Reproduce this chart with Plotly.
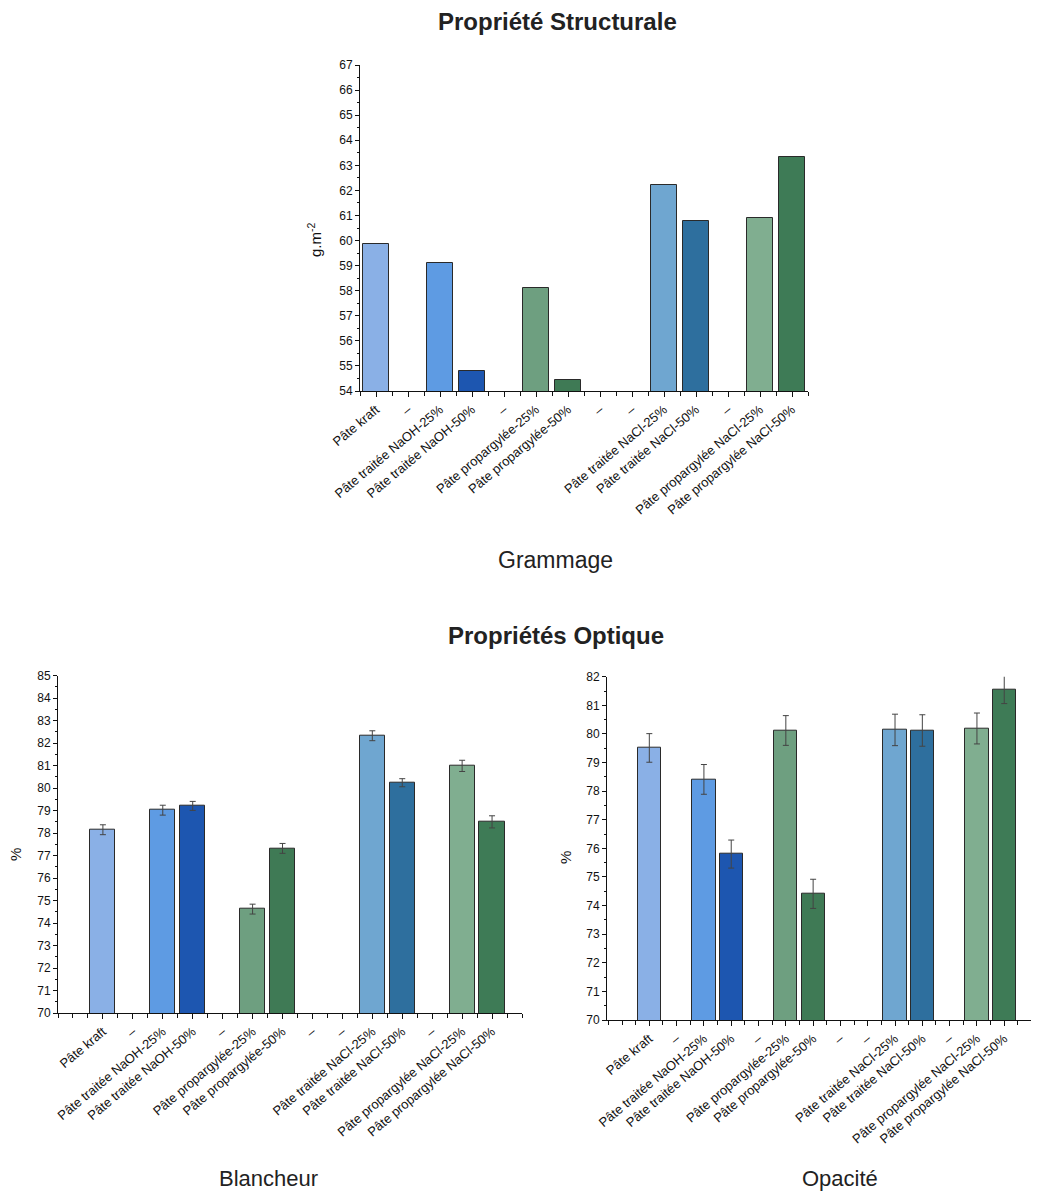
import plotly.graph_objects as go

categories = ["Pâte kraft", "–", "Pâte traitée NaOH-25%", "Pâte traitée NaOH-50%", "–",
              "Pâte propargylée-25%", "Pâte propargylée-50%", "–", "–",
              "Pâte traitée NaCl-25%", "Pâte traitée NaCl-50%", "–",
              "Pâte propargylée NaCl-25%", "Pâte propargylée NaCl-50%"]

grammage = [59.88, None, 59.11, 54.79, None, 58.09, 54.43, None, None, 62.21, 60.79, None, 60.89, 63.34]

blancheur = [78.15, None, 79.02, 79.21, None, 74.62, 77.32, None, None, 82.33, 80.24, None, 80.99, 78.50]
blancheur_err = [0.22, None, 0.22, 0.20, None, 0.22, 0.22, None, None, 0.22, 0.18, None, 0.25, 0.27]

opacite = [79.51, None, 78.41, 75.80, None, 80.12, 74.41, None, None, 80.14, 80.12, None, 80.19, 81.56]
opacite_err = [0.50, None, 0.52, 0.49, None, 0.52, 0.51, None, None, 0.55, 0.55, None, 0.54, 0.50]

bar_colors = ["#8AB0E6", "#FFFFFF", "#5E9BE3", "#1D56B0", "#FFFFFF",
              "#6E9F80", "#3F7A55", "#FFFFFF", "#FFFFFF",
              "#6FA6D0", "#2E6F9E", "#FFFFFF",
              "#80AE90", "#3E7B56"]

FONT = "Liberation Sans, Arial, sans-serif"
W, H = 1039, 1194
OFF = 8  # page body margin offset

pos = list(range(len(categories)))

fig = go.Figure()

fig.add_trace(go.Bar(x=pos, y=grammage, marker=dict(color=bar_colors, line=dict(color="#2a2a2a", width=1)),
                     width=0.8, xaxis="x", yaxis="y", showlegend=False))
fig.add_trace(go.Bar(x=pos, y=blancheur, marker=dict(color=bar_colors, line=dict(color="#2a2a2a", width=1)),
                     width=0.84, xaxis="x2", yaxis="y2", showlegend=False,
                     error_y=dict(type="data", array=blancheur_err, color="#444", thickness=1, width=3)))
fig.add_trace(go.Bar(x=pos, y=opacite, marker=dict(color=bar_colors, line=dict(color="#2a2a2a", width=1)),
                     width=0.85, xaxis="x3", yaxis="y3", showlegend=False,
                     error_y=dict(type="data", array=opacite_err, color="#444", thickness=1, width=3)))

def px_x(p):
    return (p - OFF) / W

def px_y(p):
    return 1 - (p - OFF) / H

def xaxis_cfg(domain, rng, anchor, extra):
    minor_vals = [v + 0.5 for v in range(-2, len(categories) + 1)]
    if extra:
        minor_vals = minor_vals + [-1, len(categories)]
    return dict(domain=domain, range=rng, anchor=anchor, tickmode="array", tickvals=pos, ticktext=categories,
                tickangle=-40, tickfont=dict(size=13, family=FONT, color="#111"), automargin=False,
                showline=True, linecolor="#111", linewidth=1, ticks="outside", ticklen=5, tickcolor="#111",
                showgrid=False, zeroline=False,
                minor=dict(tickmode="array", tickvals=minor_vals, ticks="outside", ticklen=4, tickcolor="#111"))

def yaxis_cfg(domain, rng, anchor):
    return dict(domain=domain, range=rng, anchor=anchor, dtick=1, tick0=0, automargin=False,
                tickfont=dict(size=12, family=FONT, color="#111"),
                showline=True, linecolor="#111", linewidth=1, ticks="outside", ticklen=4, tickcolor="#111",
                showgrid=False, zeroline=False,
                minor=dict(dtick=0.5, ticks="outside", ticklen=2, tickcolor="#111"))

fig.update_layout(
    width=W, height=H, margin=dict(l=0, r=0, t=0, b=0, autoexpand=False),
    paper_bgcolor="white", plot_bgcolor="white", bargap=0,
    font=dict(family=FONT, color="#111"),
    xaxis=xaxis_cfg([px_x(360), px_x(808)], [-0.5, 13.5], "y", False),
    yaxis=yaxis_cfg([px_y(391), px_y(65)], [54, 67], "x"),
    xaxis2=xaxis_cfg([px_x(58), px_x(522)], [-1.5, 14.0], "y2", True),
    yaxis2=yaxis_cfg([px_y(1013), px_y(675.7)], [70, 85], "x2"),
    xaxis3=xaxis_cfg([px_x(607), px_x(1037)], [-1.55, 14.2], "y3", True),
    yaxis3=yaxis_cfg([px_y(1020), px_y(676.7)], [70, 82], "x3"),
)

annots = [
    dict(text="<b>Propriété Structurale</b>", x=px_x(557), y=px_y(22), size=24),
    dict(text="Grammage", x=px_x(555), y=px_y(560), size=23),
    dict(text="<b>Propriétés Optique</b>", x=px_x(556), y=px_y(635), size=24),
    dict(text="Blancheur", x=px_x(268), y=px_y(1178), size=22),
    dict(text="Opacité", x=px_x(840), y=px_y(1178), size=22),
]
for a in annots:
    fig.add_annotation(text=a["text"], x=a["x"], y=a["y"], xref="paper", yref="paper",
                       showarrow=False, xanchor="center", yanchor="middle",
                       font=dict(size=a["size"], family=FONT, color="#222"))

for txt, x, y in [("g.m<sup>-2</sup>", 314, 240), ("%", 15, 855), ("%", 565, 858)]:
    fig.add_annotation(text=txt, x=px_x(x), y=px_y(y), xref="paper", yref="paper", showarrow=False,
                       textangle=-90, xanchor="center", yanchor="middle",
                       font=dict(size=15, family=FONT, color="#111"))

fig.write_html("out.html")
